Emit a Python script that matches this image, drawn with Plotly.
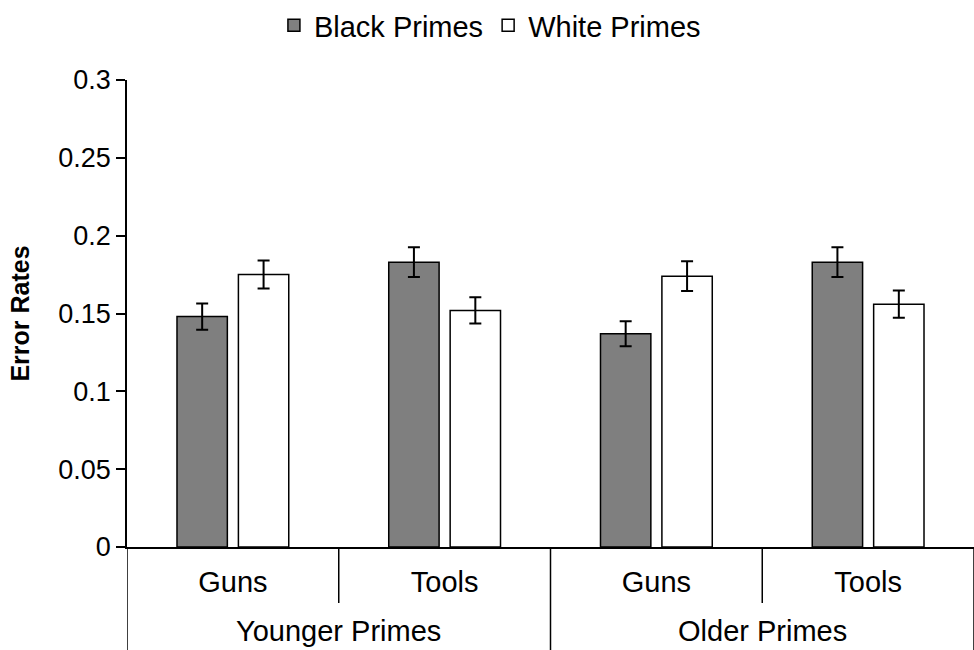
import plotly.graph_objects as go

# ---- data ----
age_groups = ["Younger Primes", "Younger Primes", "Older Primes", "Older Primes"]
targets = ["Guns", "Tools", "Guns", "Tools"]
black_values = [0.148, 0.183, 0.137, 0.183]
black_errors = [0.0085, 0.0095, 0.0080, 0.0095]
white_values = [0.175, 0.152, 0.174, 0.156]
white_errors = [0.0090, 0.0085, 0.0095, 0.0088]
y_ticks = [0, 0.05, 0.1, 0.15, 0.2, 0.25, 0.3]
y_tick_labels = ["0", "0.05", "0.1", "0.15", "0.2", "0.25", "0.3"]

FONT = "Liberation Sans, Arial, sans-serif"
x_idx = list(range(len(targets)))

fig = go.Figure()
fig.add_trace(go.Bar(
    name="Black Primes", x=x_idx, y=black_values,
    marker=dict(color="#7f7f7f", line=dict(color="black", width=1.5)),
    error_y=dict(type="data", array=black_errors, color="black", thickness=2, width=6),
))
fig.add_trace(go.Bar(
    name="White Primes", x=x_idx, y=white_values,
    marker=dict(color="white", line=dict(color="black", width=1.5)),
    error_y=dict(type="data", array=white_errors, color="black", thickness=2, width=6),
))

plot_h = 650 - 80 - 103
inner_len = 56 / plot_h
outer_len = 106 / plot_h

# dividers: outer ones at group boundaries, inner ones between targets
n = len(targets)
boundaries = [-0.5] + [k - 0.5 for k in range(1, n)] + [n - 0.5]
for b in boundaries:
    k = int(b + 0.5)
    is_outer = k == 0 or k == n or age_groups[k] != age_groups[k - 1]
    fig.add_shape(type="line", xref="x", yref="paper", x0=b, x1=b, y0=0,
                  y1=-(outer_len if is_outer else inner_len),
                  line=dict(color="black", width=1.5), layer="above")

# outer group labels
groups = []
for i, g in enumerate(age_groups):
    if not groups or groups[-1][0] != g:
        groups.append([g, []])
    groups[-1][1].append(i)
for g, idxs in groups:
    fig.add_annotation(x=sum(idxs) / len(idxs), xref="x", y=-(631 - 547) / plot_h, yref="paper",
                       text=g, showarrow=False, yanchor="middle", xanchor="center",
                       borderpad=0,
                       font=dict(size=29, family=FONT, color="black"))

fig.update_layout(
    width=974, height=650,
    margin=dict(l=127, r=0, t=80, b=103),
    paper_bgcolor="white", plot_bgcolor="white",
    barmode="group", bargap=0.42, bargroupgap=0.18,
    font=dict(family=FONT, color="black", size=27),
    showlegend=True,
    legend=dict(orientation="h", xref="container", yref="container",
                x=0.503, xanchor="center", y=1.0, yanchor="top",
                font=dict(size=29, family=FONT),
                bgcolor="rgba(0,0,0,0)"),
    xaxis=dict(range=[-0.5, n - 0.5], tickvals=x_idx, ticktext=targets,
               showline=True, linecolor="black", linewidth=1.5,
               ticks="outside", ticklen=8, tickcolor="rgba(0,0,0,0)",
               showgrid=False, zeroline=False, tickfont=dict(size=29, family=FONT)),
    yaxis=dict(range=[0, 0.3], tickvals=y_ticks, ticktext=y_tick_labels,
               showline=True, linecolor="black", linewidth=1.5, ticks="outside",
               ticklen=9, tickwidth=1.5, tickcolor="black", showgrid=False, zeroline=False,
               tickfont=dict(size=27, family=FONT),
               title=dict(text="<b>Error Rates</b>", font=dict(size=25, family=FONT), standoff=22)),
)

fig.write_html("out.html", config={"displayModeBar": False},
               post_script="document.body.style.margin='0';")
